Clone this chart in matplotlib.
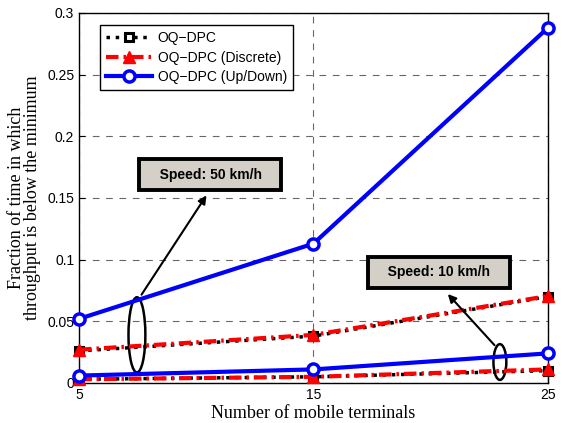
import matplotlib
matplotlib.use("Agg")
import matplotlib.pyplot as plt
from matplotlib.patches import Ellipse

terminals = [5, 15, 25]

# 50 km/h curves
oq_dpc_50 = [0.026, 0.038, 0.070]
discrete_50 = [0.027, 0.039, 0.0705]
updown_50 = [0.052, 0.113, 0.288]

# 10 km/h curves
oq_dpc_10 = [0.003, 0.005, 0.010]
discrete_10 = [0.003, 0.005, 0.011]
updown_10 = [0.006, 0.011, 0.024]

y_ticks = [0, 0.05, 0.1, 0.15, 0.2, 0.25, 0.3]
y_tick_labels = ["0", "0.05", "0.1", "0.15", "0.2", "0.25", "0.3"]

plt.rcParams["font.family"] = ["Liberation Sans", "DejaVu Sans"]

fig = plt.figure(figsize=(5.62, 4.23), dpi=100)
ax = fig.add_axes([0.1406, 0.0946, 0.8344, 0.8747])

for ys, lab in [(oq_dpc_50, "OQ\u2212DPC"), (oq_dpc_10, None)]:
    ax.plot(terminals, ys, color="black", linestyle=":", linewidth=2.5,
            marker="s", markersize=6, markerfacecolor="white",
            markeredgecolor="black", markeredgewidth=2.2, label=lab, clip_on=False)
for ys, lab in [(discrete_50, "OQ\u2212DPC (Discrete)"), (discrete_10, None)]:
    ax.plot(terminals, ys, color="red", linestyle=(0, (3, 1.2, 0.6, 1.2)), linewidth=3,
            marker="^", markersize=9, markerfacecolor="red",
            markeredgecolor="red", label=lab, clip_on=False)
for ys, lab in [(updown_50, "OQ\u2212DPC (Up/Down)"), (updown_10, None)]:
    ax.plot(terminals, ys, color="blue", linestyle="-", linewidth=3,
            marker="o", markersize=8, markerfacecolor="white",
            markeredgecolor="blue", markeredgewidth=2.5, label=lab, clip_on=False)

ax.set_xlim(5, 25)
ax.set_ylim(0, 0.3)
ax.set_xticks(terminals)
ax.set_yticks(y_ticks)
ax.set_yticklabels(y_tick_labels)
ax.tick_params(direction="in", labelsize=10, length=4)
ax.grid(True, color="black", linestyle=(0, (6, 6)), linewidth=0.8, alpha=0.6)
for s in ax.spines.values():
    s.set_linewidth(1.0)
    s.set_zorder(1)

ax.set_xlabel("Number of mobile terminals", fontsize=13, family="Liberation Serif", labelpad=2)
ax.set_ylabel("Fraction of time in which\nthroughput is below the minimum",
              fontsize=13, family="Liberation Serif", linespacing=0.95, labelpad=4)

leg = ax.legend(loc="upper left", bbox_to_anchor=(0.045, 0.968), borderaxespad=0,
                fontsize=10, frameon=True, fancybox=False, edgecolor="black", framealpha=1,
                handlelength=3.3, borderpad=0.45, labelspacing=0.4, handletextpad=0.4)
leg.get_frame().set_linewidth(1.0)

# speed annotations
box = dict(boxstyle="square,pad=0.6", facecolor="#d4d0c8", edgecolor="black", linewidth=2.8)
ax.text(10.6, 0.169, "   Speed: 50 km/h   ", ha="center", va="center", fontsize=10,
        fontweight="bold", bbox=box)
ax.text(20.35, 0.0896, "   Speed: 10 km/h   ", ha="center", va="center", fontsize=10,
        fontweight="bold", bbox=box)

ax.add_patch(Ellipse((7.47, 0.039), 0.72, 0.061, fill=False, edgecolor="black", linewidth=1.8))
ax.add_patch(Ellipse((22.95, 0.017), 0.55, 0.029, fill=False, edgecolor="black", linewidth=1.8))

arrow = dict(arrowstyle="-|>", color="black", linewidth=1.5, mutation_scale=12)
ax.annotate("", xy=(10.5, 0.154), xytext=(7.6, 0.0697), arrowprops=arrow)
ax.annotate("", xy=(20.65, 0.0738), xytext=(22.8, 0.029), arrowprops=arrow)

fig.savefig("out.png", dpi=100)
